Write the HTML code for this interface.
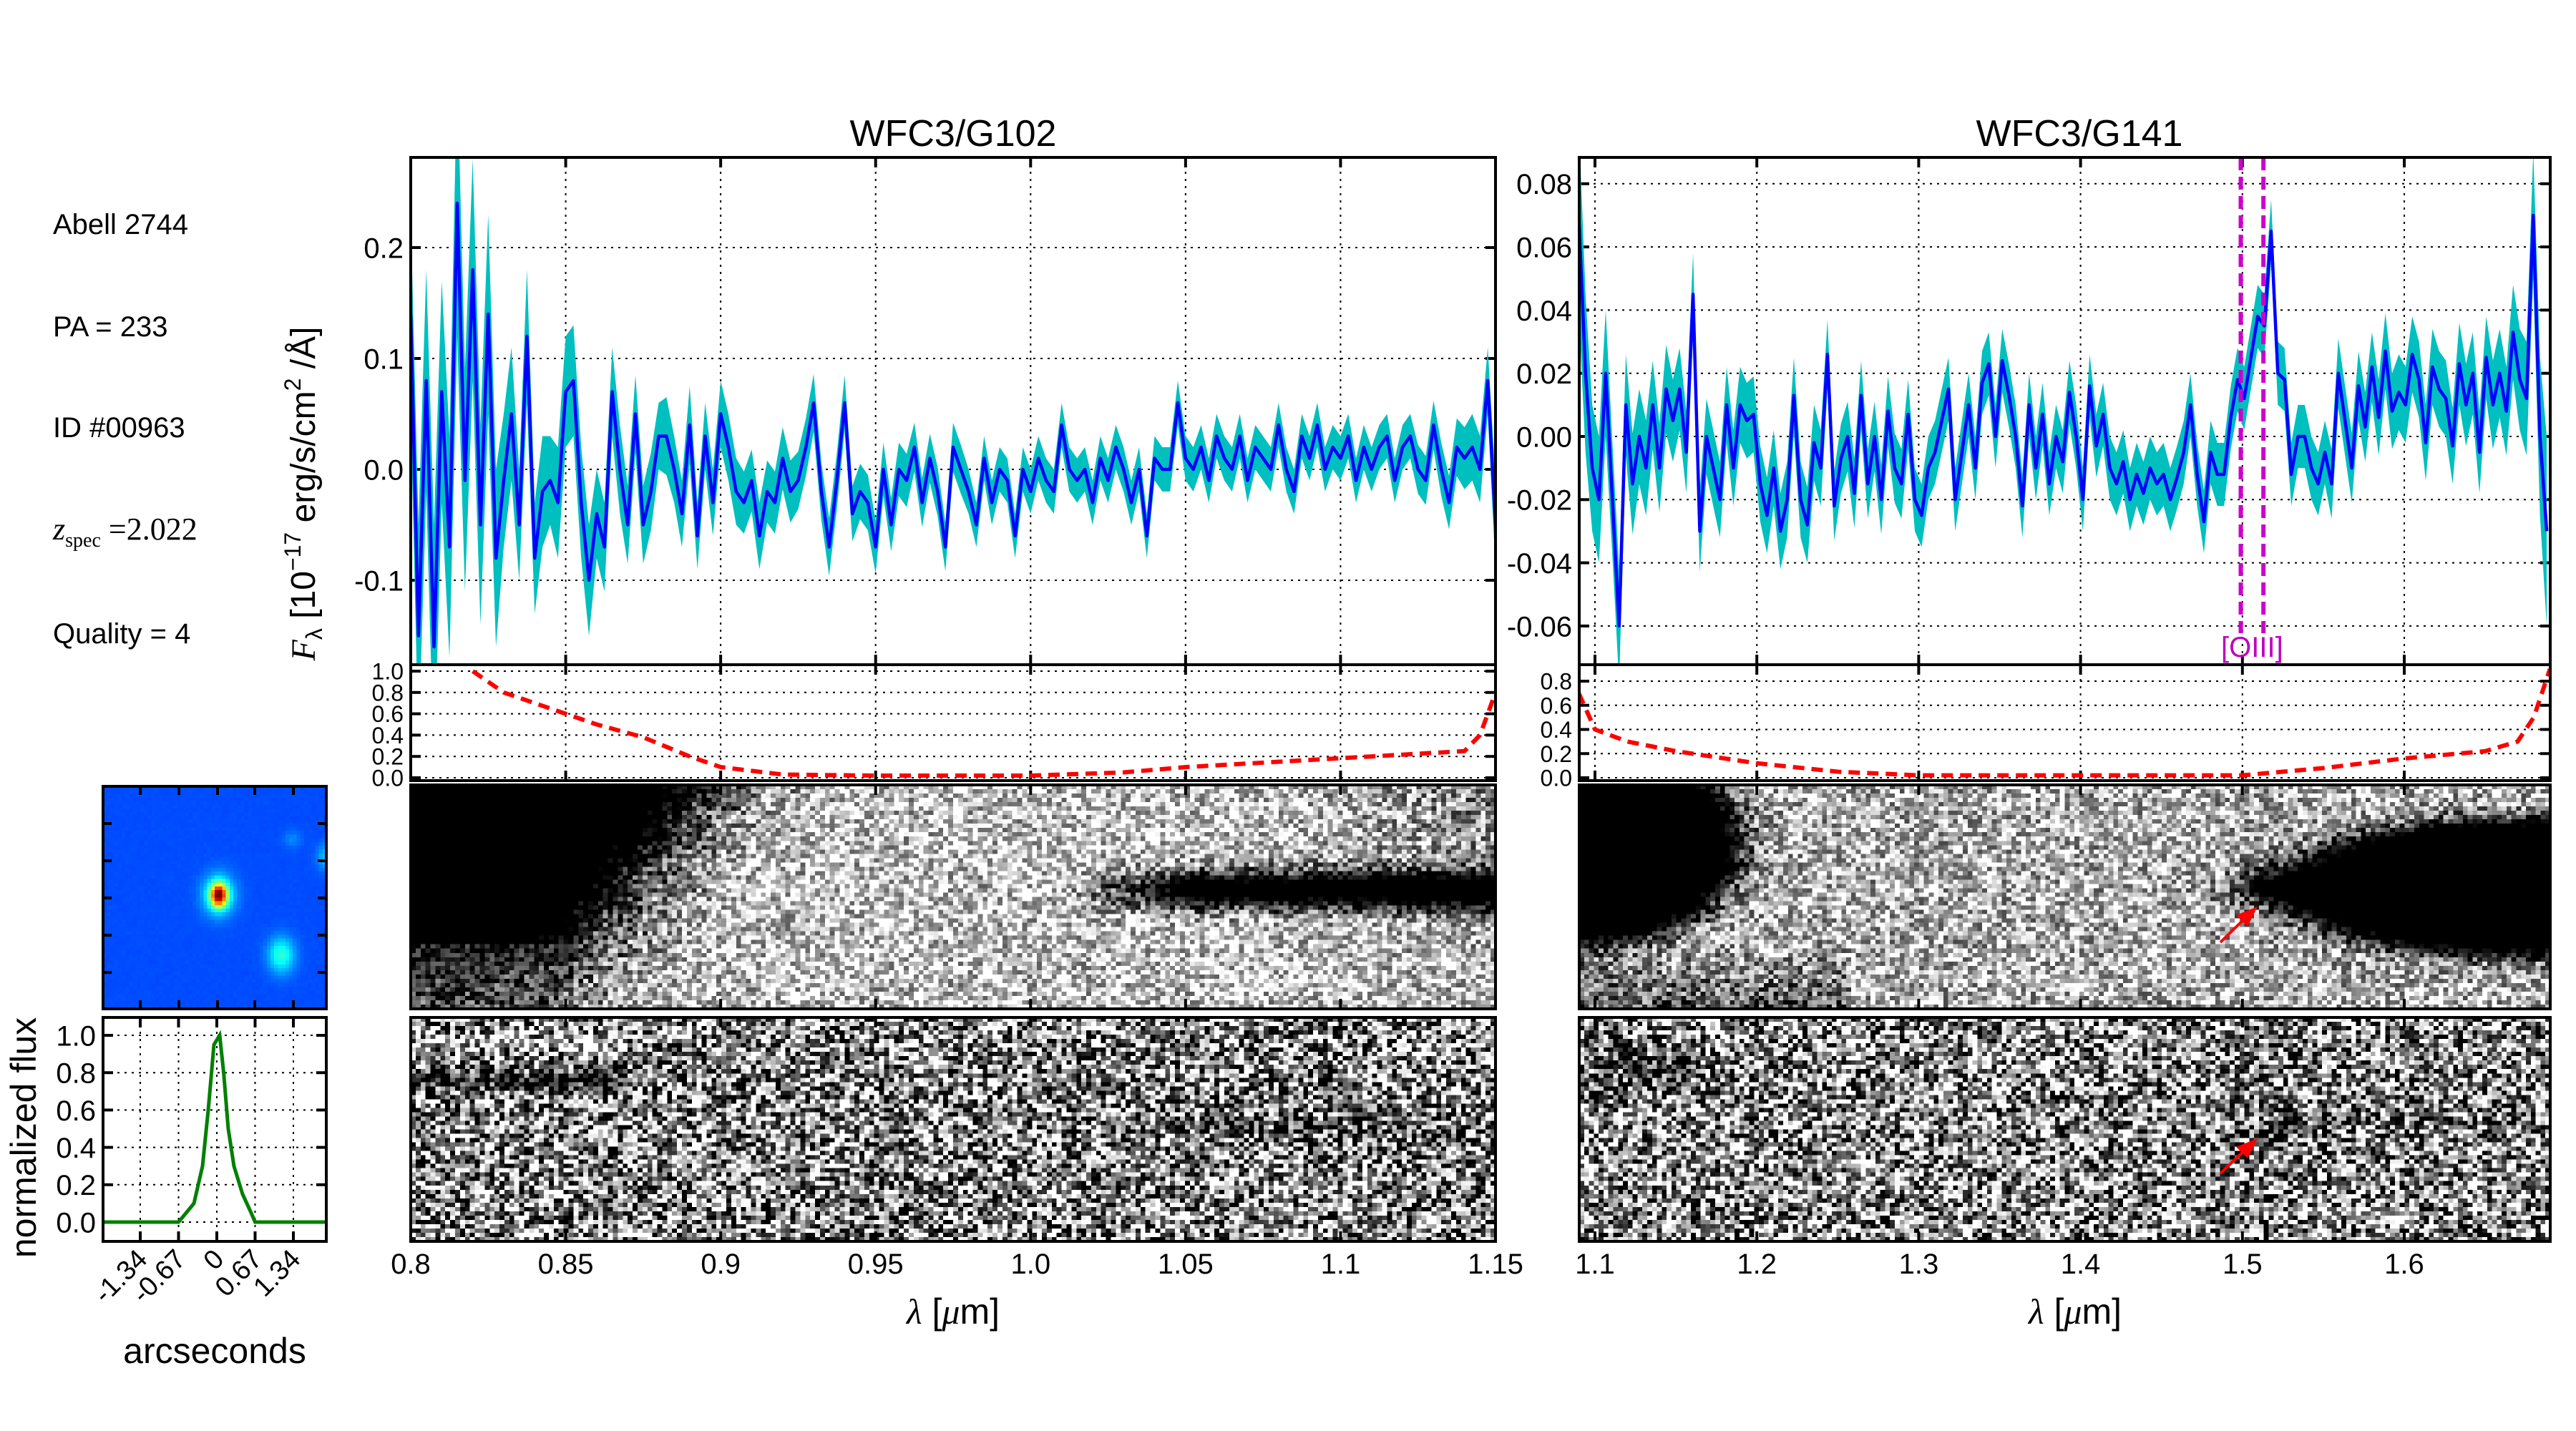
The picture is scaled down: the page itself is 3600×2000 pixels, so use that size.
<!DOCTYPE html>
<html><head><meta charset="utf-8">
<style>
html,body{margin:0;padding:0;background:#fff;}
#wrap{position:relative;width:3600px;height:2000px;overflow:hidden;background:#fff;font-family:"Liberation Sans",sans-serif;}
canvas{position:absolute;image-rendering:pixelated;}
svg{position:absolute;left:0;top:0;}
</style></head>
<body>
<div id="wrap">
<canvas id="c102a" style="left:574px;top:1097px;width:1516px;height:313px"></canvas>
<canvas id="c102b" style="left:574px;top:1422px;width:1516px;height:313px"></canvas>
<canvas id="c141a" style="left:2207px;top:1097px;width:1357px;height:313px"></canvas>
<canvas id="c141b" style="left:2207px;top:1422px;width:1357px;height:313px"></canvas>
<canvas id="cthumb" style="left:144px;top:1099px;width:312px;height:311px"></canvas>
<svg id="svg" width="3600" height="2000" xmlns="http://www.w3.org/2000/svg">
<g font-family="Liberation Sans, sans-serif" fill="#000">
<text x="74" y="327" font-size="40">Abell 2744</text>
<text x="74" y="470" font-size="40">PA = 233</text>
<text x="74" y="611" font-size="40">ID #00963</text>
<text x="74" y="754" font-size="44" font-family="Liberation Serif, serif"><tspan font-style="italic">z</tspan><tspan font-size="28" dy="10">spec</tspan><tspan dy="-10"> =2.022</tspan></text>
<text x="74" y="899" font-size="40">Quality = 4</text>
<text x="1332" y="204" font-size="52" text-anchor="middle">WFC3/G102</text>
<text x="2906" y="204" font-size="52" text-anchor="middle">WFC3/G141</text>
<text transform="translate(440,690) rotate(-90)" font-size="48" text-anchor="middle"><tspan font-family="Liberation Serif, serif" font-style="italic">F</tspan><tspan font-size="32" dy="10">λ</tspan><tspan dy="-10"> [10</tspan><tspan font-size="32" dy="-20">−17</tspan><tspan dy="20"> erg/s/cm</tspan><tspan font-size="32" dy="-20">2</tspan><tspan dy="20"> /Å]</tspan></text>
<text transform="translate(50,1590) rotate(-90)" font-size="50" text-anchor="middle">normalized flux</text>
<text x="300" y="1905" font-size="50" text-anchor="middle">arcseconds</text>
<text x="1332" y="1850" font-size="50" text-anchor="middle"><tspan font-family="Liberation Serif, serif" font-style="italic">λ</tspan> [<tspan font-family="Liberation Serif, serif" font-style="italic">μ</tspan>m]</text>
<text x="2900" y="1850" font-size="50" text-anchor="middle"><tspan font-family="Liberation Serif, serif" font-style="italic">λ</tspan> [<tspan font-family="Liberation Serif, serif" font-style="italic">μ</tspan>m]</text>
</g>
<g id="plots"></g>
</svg>
</div>
<script>
// ---------- data ----------
const g102Lam = [0.8, 1.15];
const g102Flux = [0.14,-0.15,0.08,-0.16,0.07,-0.07,0.24,-0.01,0.18,-0.05,0.14,-0.08,-0.01,0.05,-0.05,0.12,-0.08,-0.02,-0.01,-0.03,0.07,0.08,-0.03,-0.10,-0.04,-0.07,0.07,0.0,-0.05,0.05,-0.05,-0.02,0.03,0.03,0.0,-0.04,0.04,-0.06,0.03,-0.03,0.05,0.02,-0.02,-0.03,-0.01,-0.06,-0.02,-0.03,0.01,-0.02,-0.01,0.02,0.06,-0.02,-0.07,-0.01,0.06,-0.04,-0.02,-0.03,-0.07,0.0,-0.05,0.0,-0.01,0.02,-0.03,0.01,-0.02,-0.07,0.02,0.0,-0.02,-0.05,0.01,-0.03,0.0,-0.01,-0.06,0.0,-0.02,0.01,-0.01,-0.02,0.04,0.0,-0.01,0.0,-0.03,0.01,-0.01,0.02,0.0,-0.03,0.0,-0.06,0.01,0.0,0.0,0.06,0.01,0.0,0.02,-0.01,0.03,0.01,0.0,0.03,-0.01,0.02,0.01,0.0,0.04,0.0,-0.02,0.03,0.01,0.04,0.0,0.02,0.01,0.03,-0.01,0.02,0.0,0.02,0.03,-0.01,0.02,0.03,0.0,-0.01,0.04,0.0,-0.03,0.02,0.01,0.02,0.0,0.08,-0.05];
const g102Err = [0.09,0.1,0.1,0.11,0.1,0.1,0.12,0.1,0.1,0.09,0.09,0.08,0.06,0.06,0.05,0.06,0.05,0.05,0.04,0.05,0.05,0.05,0.05,0.05,0.04,0.04,0.04,0.04,0.035,0.035,0.035,0.035,0.03,0.035,0.03,0.03,0.035,0.03,0.03,0.03,0.03,0.03,0.03,0.028,0.028,0.03,0.028,0.028,0.028,0.028,0.026,0.026,0.026,0.026,0.026,0.025,0.025,0.025,0.025,0.025,0.024,0.024,0.024,0.024,0.024,0.022,0.022,0.022,0.022,0.022,0.022,0.022,0.02,0.02,0.02,0.02,0.02,0.02,0.02,0.02,0.02,0.02,0.02,0.02,0.02,0.02,0.02,0.02,0.02,0.02,0.02,0.02,0.02,0.02,0.02,0.02,0.02,0.02,0.02,0.02,0.02,0.02,0.02,0.02,0.02,0.02,0.02,0.02,0.02,0.02,0.02,0.02,0.02,0.02,0.02,0.02,0.02,0.02,0.02,0.02,0.02,0.02,0.02,0.02,0.02,0.02,0.02,0.02,0.02,0.02,0.022,0.022,0.022,0.024,0.024,0.026,0.028,0.03,0.03,0.03,0.04];
const g141Lam = [1.09, 1.688];
const g141Flux = [0.07,0.02,-0.01,-0.02,0.02,-0.02,-0.06,0.01,-0.015,0.0,-0.01,0.01,-0.01,0.015,0.005,0.015,-0.005,0.045,-0.03,0.0,-0.01,-0.02,0.01,-0.01,0.01,0.005,0.007,-0.015,-0.025,-0.01,-0.03,-0.02,0.013,-0.02,-0.028,-0.002,-0.01,0.026,-0.022,-0.007,0.0,-0.018,0.013,-0.015,0.0,-0.02,0.008,-0.01,-0.015,0.007,-0.02,-0.025,-0.01,-0.005,0.005,0.015,-0.02,-0.005,0.01,-0.01,0.017,0.023,0.0,0.024,0.013,0.0,-0.022,0.01,-0.01,0.007,-0.015,0.0,-0.008,0.014,0.0,-0.02,0.016,-0.003,0.007,-0.01,-0.015,-0.008,-0.02,-0.012,-0.018,-0.01,-0.015,-0.012,-0.02,-0.013,-0.005,0.01,-0.012,-0.027,-0.005,-0.012,-0.012,0.006,0.018,0.012,0.025,0.038,0.035,0.065,0.02,0.018,-0.012,0.0,0.0,-0.01,-0.015,-0.005,-0.015,0.02,0.005,-0.01,0.016,0.003,0.022,0.006,0.027,0.008,0.014,0.01,0.026,0.018,-0.002,0.022,0.015,0.012,-0.003,0.023,0.01,0.02,-0.005,0.025,0.01,0.02,0.008,0.033,0.018,0.012,0.07,0.0,-0.03];
const g141Err = [0.03,0.025,0.02,0.02,0.02,0.018,0.018,0.016,0.016,0.015,0.015,0.014,0.014,0.014,0.013,0.013,0.013,0.013,0.013,0.012,0.012,0.012,0.012,0.012,0.012,0.012,0.012,0.012,0.012,0.012,0.012,0.012,0.012,0.012,0.012,0.012,0.012,0.011,0.011,0.011,0.011,0.011,0.011,0.011,0.011,0.011,0.011,0.011,0.011,0.011,0.01,0.01,0.01,0.01,0.01,0.01,0.01,0.01,0.01,0.01,0.01,0.01,0.01,0.01,0.01,0.01,0.01,0.01,0.01,0.01,0.01,0.01,0.01,0.01,0.01,0.01,0.01,0.01,0.01,0.01,0.01,0.01,0.01,0.01,0.01,0.01,0.01,0.01,0.01,0.01,0.01,0.01,0.01,0.01,0.01,0.01,0.01,0.01,0.01,0.01,0.01,0.01,0.01,0.01,0.01,0.01,0.01,0.01,0.01,0.01,0.01,0.01,0.011,0.011,0.011,0.011,0.011,0.011,0.011,0.012,0.012,0.012,0.012,0.012,0.012,0.012,0.012,0.012,0.012,0.012,0.012,0.013,0.013,0.013,0.013,0.013,0.014,0.014,0.014,0.015,0.016,0.018,0.02,0.025,0.03];
const g102SensLam = [0.82,0.83,0.845,0.86,0.875,0.89,0.9,0.92,0.95,1.0,1.03,1.05,1.08,1.11,1.14,1.145,1.15];
const g102Sens = [1.0,0.8,0.65,0.5,0.38,0.2,0.1,0.03,0.02,0.02,0.05,0.1,0.15,0.2,0.25,0.4,0.8];
const g141SensLam = [1.09,1.1,1.12,1.15,1.2,1.25,1.3,1.5,1.55,1.6,1.65,1.67,1.68,1.69];
const g141Sens = [0.7,0.4,0.3,0.22,0.12,0.05,0.02,0.02,0.08,0.16,0.22,0.3,0.5,0.9];
const profX = [-2.0,-0.67,-0.4,-0.25,-0.15,-0.05,0.05,0.12,0.2,0.3,0.45,0.6,0.67,1.92];
const profY = [0,0,0.1,0.3,0.6,0.95,1.0,0.8,0.5,0.3,0.15,0.05,0,0];
const g102XTicks = [0.8,0.85,0.9,0.95,1.0,1.05,1.1,1.15];
const g102XLabels = ["0.8","0.85","0.9","0.95","1.0","1.05","1.1","1.15"];
const g141XTicks = [1.1,1.2,1.3,1.4,1.5,1.6];
const g141XLabels = ["1.1","1.2","1.3","1.4","1.5","1.6"];
const g102YTicks = [-0.1,0.0,0.1,0.2];
const g102YLabels = ["-0.1","0.0","0.1","0.2"];
const g141YTicks = [-0.06,-0.04,-0.02,0.0,0.02,0.04,0.06,0.08];
const g141YLabels = ["-0.06","-0.04","-0.02","0.00","0.02","0.04","0.06","0.08"];
const g102SensTicks = [0,0.2,0.4,0.6,0.8,1.0];
const g102SensLabels = ["0.0","0.2","0.4","0.6","0.8","1.0"];
const g141SensTicks = [0,0.2,0.4,0.6,0.8];
const g141SensLabels = ["0.0","0.2","0.4","0.6","0.8"];
const profXTicks = [-1.34,-0.67,0,0.67,1.34];
const profXLabels = ["-1.34","-0.67","0","0.67","1.34"];
const profYTicks = [0,0.2,0.4,0.6,0.8,1.0];
const profYLabels = ["0.0","0.2","0.4","0.6","0.8","1.0"];
const oiiiLines = [1.499,1.513];

// ---------- helpers ----------
const NS="http://www.w3.org/2000/svg";
const root=document.getElementById('plots');
function mk(tag,attrs,parent){const e=document.createElementNS(NS,tag);for(const k in attrs)e.setAttribute(k,attrs[k]);(parent||root).appendChild(e);return e;}
function lin(d0,d1,r0,r1){return v=>r0+(v-d0)/(d1-d0)*(r1-r0);}
function lamAt(range,n,i){return range[0]+(range[1]-range[0])*i/(n-1);}

function axesBox(x0,x1,y0,y1,name){
  const r=mk('rect',{x:x0,y:y0,width:x1-x0,height:y1-y0,fill:'none',stroke:'#000','stroke-width':4});
  
  
}
function xgrid(xs,ticks,y0,y1,grid){
  ticks.forEach(t=>{const X=xs(t);
    if(grid){const l=mk('line',{x1:X,x2:X,y1:y0,y2:y1,stroke:'#000','stroke-width':2,'stroke-dasharray':'3,7'});
      }
    const a=mk('line',{x1:X,x2:X,y1:y0,y2:y0+14,stroke:'#000','stroke-width':4});
    
    const b=mk('line',{x1:X,x2:X,y1:y1,y2:y1-14,stroke:'#000','stroke-width':4});
    
  });
}
function ygrid(ys,ticks,labels,x0,x1,side,fs){
  ticks.forEach((t,i)=>{const Y=ys(t);
    const l=mk('line',{x1:x0,x2:x1,y1:Y,y2:Y,stroke:'#000','stroke-width':2,'stroke-dasharray':'3,7'});
    
    const a=mk('line',{x1:x0,x2:x0+14,y1:Y,y2:Y,stroke:'#000','stroke-width':4});
    
    const b=mk('line',{x1:x1,x2:x1-14,y1:Y,y2:Y,stroke:'#000','stroke-width':4});
    
    const tx=mk('text',{x:x0-10,y:Y+fs*0.36,'font-size':fs,'text-anchor':'end','font-family':'Liberation Sans, sans-serif'});
    tx.textContent=labels[i];
    
  });
}
function xlabels(xs,ticks,labels,y){
  ticks.forEach((t,i)=>{const tx=mk('text',{x:xs(t),y:y,'font-size':40,'text-anchor':'middle','font-family':'Liberation Sans, sans-serif'});
    tx.textContent=labels[i];
    });
}
function spectrum(range,flux,err,xs,ys,x0,x1,y0,y1,clipId,pfx){
  const cp=mk('clipPath',{id:clipId});mk('rect',{x:x0,y:y0,width:x1-x0,height:y1-y0},cp);
  const n=flux.length;let up=[],dn=[],ln=[];
  for(let i=0;i<n;i++){const X=xs(lamAt(range,n,i));const e=err[i]!==undefined?err[i]:err[err.length-1];
    up.push(X+','+ys(flux[i]+e));dn.unshift(X+','+ys(flux[i]-e));ln.push(X+','+ys(flux[i]));}
  const band=mk('polygon',{points:up.concat(dn).join(' '),fill:'#00bfbf',stroke:'none','clip-path':'url(#'+clipId+')'});
  
  const line=mk('polyline',{points:ln.join(' '),fill:'none',stroke:'#0000ff','stroke-width':4.5,'stroke-linejoin':'round','clip-path':'url(#'+clipId+')'});
  
}
function sens(lams,vals,xs,ys,clipId,x0,x1,y0,y1,pfx){
  const cp=mk('clipPath',{id:clipId});mk('rect',{x:x0,y:y0,width:x1-x0,height:y1-y0},cp);
  const pts=lams.map((l,i)=>xs(l)+','+ys(vals[i])).join(' ');
  const p=mk('polyline',{points:pts,fill:'none',stroke:'#ff0000','stroke-width':6,'stroke-dasharray':'16,10','clip-path':'url(#'+clipId+')'});
  
}

// ---------- G102 ----------
(function(){
  const X0=574,X1=2090,T=220,M=929,B=1091;
  const xs=lin(0.8,1.15,X0,X1), ys=lin(0,0.1,656,501), ss=lin(0,1,1087,938);
  ygrid(ys,g102YTicks,g102YLabels,X0,X1,'l',40);
  xgrid(xs,g102XTicks.slice(1,-1),T,M,true);
  spectrum(g102Lam,g102Flux,g102Err,xs,ys,X0,X1,T,M,'clip102','g102');
  axesBox(X0,X1,T,M,'g102-flux-axes');
  ygrid(ss,g102SensTicks,g102SensLabels,X0,X1,'l',32);
  xgrid(xs,g102XTicks.slice(1,-1),M,B,true);
  sens(g102SensLam,g102Sens,xs,ss,'clip102s',X0,X1,M,B,'g102');
  axesBox(X0,X1,M,B,'g102-sensitivity-axes');
  axesBox(X0,X1,1097,1410,'g102-2d-frame');
  axesBox(X0,X1,1422,1735,'g102-residual-frame');
  xgrid(xs,g102XTicks.slice(1,-1),1097,1410,false);
  xgrid(xs,g102XTicks.slice(1,-1),1422,1735,false);
  xlabels(xs,g102XTicks,g102XLabels,1780);
})();

// ---------- G141 ----------
(function(){
  const X0=2207,X1=3564,T=220,M=929,B=1091;
  const xs=lin(1.1,1.6,2229,3360), ys=lin(0,0.02,610,521.7), ss=lin(0,0.8,1087,952);
  ygrid(ys,g141YTicks,g141YLabels,X0,X1,'l',40);
  xgrid(xs,g141XTicks,T,M,true);
  spectrum(g141Lam,g141Flux,g141Err,xs,ys,X0,X1,T,M,'clip141','g141');
  oiiiLines.forEach(l=>{const L=mk('line',{x1:xs(l),x2:xs(l),y1:T,y2:885,stroke:'#cc00cc','stroke-width':6,'stroke-dasharray':'18,9'});
    });
  const ot=mk('text',{x:(xs(oiiiLines[0])+xs(oiiiLines[1]))/2,y:918,'font-size':40,'text-anchor':'middle',fill:'#bf00bf','font-family':'Liberation Sans, sans-serif'});
  ot.textContent='[OIII]';
  
  axesBox(X0,X1,T,M,'g141-flux-axes');
  ygrid(ss,g141SensTicks,g141SensLabels,X0,X1,'l',32);
  xgrid(xs,g141XTicks,M,B,true);
  sens(g141SensLam,g141Sens,xs,ss,'clip141s',X0,X1,M,B,'g141');
  axesBox(X0,X1,M,B,'g141-sensitivity-axes');
  axesBox(X0,X1,1097,1410,'g141-2d-frame');
  axesBox(X0,X1,1422,1735,'g141-residual-frame');
  xgrid(xs,g141XTicks,1097,1410,false);
  xgrid(xs,g141XTicks,1422,1735,false);
  xlabels(xs,g141XTicks,g141XLabels,1780);
  [[3103,1317,3155,1267],[3103,1640,3155,1591]].forEach(a=>{
    const L=mk('line',{x1:a[0],y1:a[1],x2:a[2]-10,y2:a[3]+9,stroke:'#ff0000','stroke-width':4});
    
    const h=mk('polygon',{points:a[2]+','+a[3]+' '+(a[2]-30)+','+(a[3]+12)+' '+(a[2]-14)+','+(a[3]+28),fill:'#ff0000'});
    
  });
})();

// ---------- profile ----------
(function(){
  const X0=144,X1=456,T=1422,B=1735;
  const xs=lin(-1.34,1.34,196,410), ys=lin(0,1,1708,1447);
  ygrid(ys,profYTicks,profYLabels,X0,X1,'l',40);
  xgrid(xs,profXTicks,T,B,true);
  const p=mk('polyline',{points:profX.map((x,i)=>xs(x)+','+ys(profY[i])).join(' '),fill:'none',stroke:'#008000','stroke-width':5});
  
  axesBox(X0,X1,T,B,'profile-axes');
  profXTicks.forEach((t,i)=>{const X=xs(t);
    const tx=mk('text',{x:0,y:0,'font-size':38,'text-anchor':'end','font-family':'Liberation Sans, sans-serif',transform:'translate('+(X+12)+',1762) rotate(-45)'});
    tx.textContent=profXLabels[i];
    });
  axesBox(144,456,1099,1410,'thumbnail-frame');
  [196,250,304,356,410].forEach(X=>{mk('line',{x1:X,x2:X,y1:1099,y2:1111,stroke:'#000','stroke-width':4});mk('line',{x1:X,x2:X,y1:1410,y2:1398,stroke:'#000','stroke-width':4});});
  [1151,1203,1255,1307,1359].forEach(Y=>{mk('line',{x1:144,x2:156,y1:Y,y2:Y,stroke:'#000','stroke-width':4});mk('line',{x1:456,x2:444,y1:Y,y2:Y,stroke:'#000','stroke-width':4});});
})();

// ---------- images (texture) ----------
let seed=12345;function rnd(){seed=(seed*1103515245+12345)%2147483648;return seed/2147483648;}
function clamp(v){return v<0?0:v>1?1:v;}
function paint(id,W,H,fn){const c=document.getElementById(id);c.width=W;c.height=H;const g=c.getContext('2d');const im=g.createImageData(W,H);
  for(let j=0;j<H;j++)for(let i=0;i<W;i++){const rgb=fn(i/W,j/H);const k=(j*W+i)*4;im.data[k]=rgb[0];im.data[k+1]=rgb[1];im.data[k+2]=rgb[2];im.data[k+3]=255;}
  g.putImageData(im,0,0);}
function gray(m,amp){const v=Math.round(clamp(m+(rnd()-0.5)*amp)*255);return [v,v,v];}
function sm(e){return 1/(1+Math.exp(-e));}
paint('c102a',220,52,(u,v)=>{let m=0.8;
  const edge=0.27-0.17*v+0.03*(rnd()-0.5);
  m-=1.4*sm((edge-u)*30);
  if(v>0.7&&u<0.25)m=Math.max(m,0.1+0.6*(v-0.7)*(0.25-u)*4+0.15*(u/0.25));
  if(u>0.6)m-=1.1*Math.exp(-Math.pow((v-0.46)/0.09,2))*Math.min(1,(u-0.6)/0.12);
  if(u>0.8)m-=0.4*(1-v)*(u-0.8)*4;
  const amp=m<0.2?0.5:0.9;
  return gray(m,amp);});
paint('c102b',220,52,(u,v)=>{let m=0.55;
  if(u<0.2)m-=0.6*Math.exp(-Math.pow((v-0.27)/0.05,2));
  if(u<0.2)m+=0.3*Math.exp(-Math.pow((v-0.1)/0.04,2));
  if(u>0.65)m-=0.3*Math.exp(-Math.pow((v-0.48)/0.05,2));
  return gray(m,1.5);});
paint('c141a',200,52,(u,v)=>{let m=0.72;
  const d1=Math.pow(u/0.16,2)+Math.pow((v-0.25)/0.45,2); m-=1.3*sm((1-d1)*6);
  if(u<0.28&&v>0.7)m-=0.45*(v-0.7)*3;
  const d2=Math.pow((u-0.97)/0.24,2)+Math.pow((v-0.45)/0.3,2); m-=1.3*sm((1-d2)*5);
  m-=0.6*Math.exp(-Math.pow((u-0.71)/0.05,2)-Math.pow((v-0.45)/0.08,2));
  const amp=m<0.2?0.5:0.9;
  return gray(m,amp);});
paint('c141b',200,52,(u,v)=>{let m=0.58;
  m-=0.5*Math.exp(-Math.pow((u-0.07)/0.06,2)-Math.pow((v-0.22)/0.1,2));
  m-=0.5*Math.exp(-Math.pow((u-0.71)/0.03,2)-Math.pow((v-0.5)/0.06,2));
  if(u>0.72)m-=0.25*Math.exp(-Math.pow((v-0.45)/0.06,2));
  return gray(m,1.5);});
function jet(t){t=clamp(t);const r=clamp(1.5-Math.abs(4*t-3)),g=clamp(1.5-Math.abs(4*t-2)),b=clamp(1.5-Math.abs(4*t-1));return [r*255|0,g*255|0,b*255|0];}
paint('cthumb',60,60,(u,v)=>{let t=0.2+0.01*(rnd()-0.5);
  t+=0.6*Math.exp(-(Math.pow((u-0.51)/0.035,2)+Math.pow((v-0.48)/0.05,2)));
  t+=0.25*Math.exp(-(Math.pow((u-0.51)/0.07,2)+Math.pow((v-0.48)/0.09,2)));
  t+=0.22*Math.exp(-(Math.pow((u-0.79)/0.06,2)+Math.pow((v-0.75)/0.08,2)));
  t+=0.06*Math.exp(-(Math.pow((u-0.84)/0.04,2)+Math.pow((v-0.23)/0.04,2)));
  t+=0.12*Math.exp(-(Math.pow((u-0.99)/0.04,2)+Math.pow((v-0.31)/0.06,2)));
  return jet(t);});
</script>
</body></html>
